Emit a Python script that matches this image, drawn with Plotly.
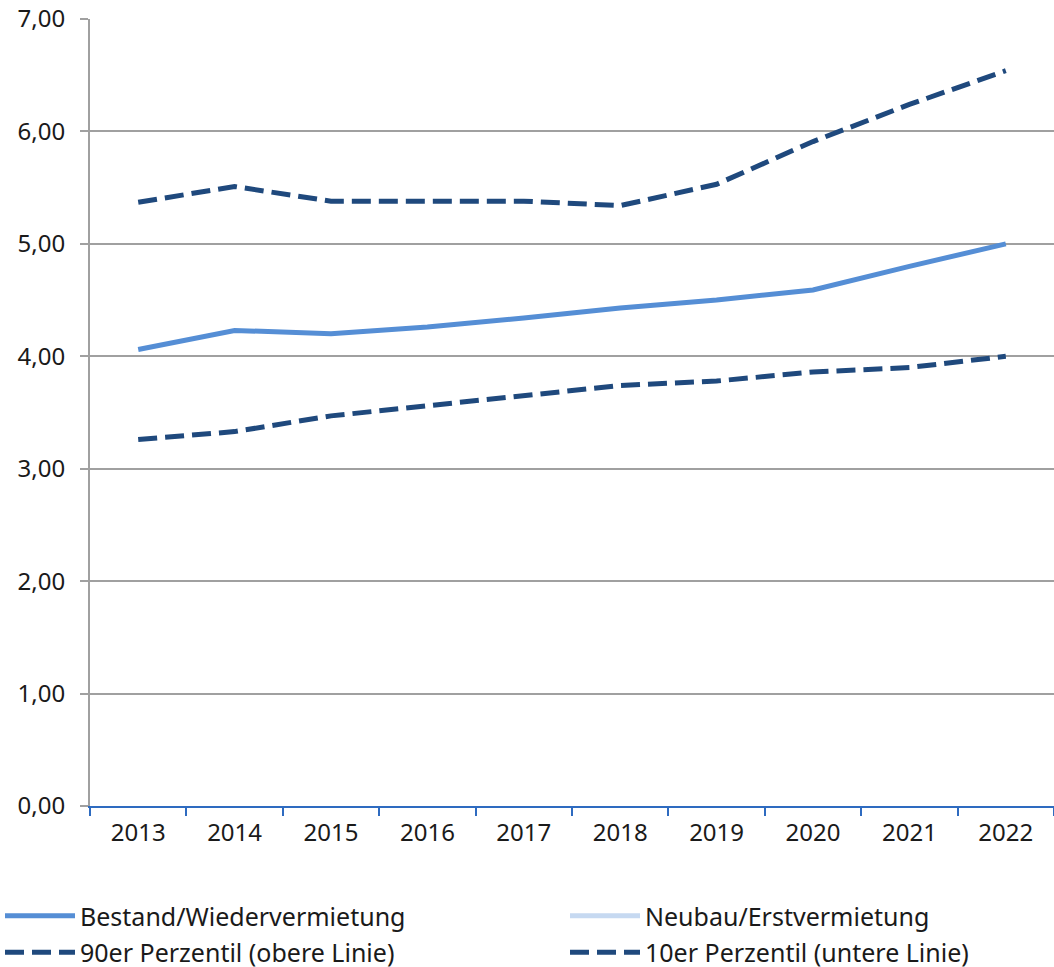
import plotly.graph_objects as go

years = ["2013", "2014", "2015", "2016", "2017", "2018", "2019", "2020", "2021", "2022"]
bestand = [4.06, 4.23, 4.20, 4.26, 4.34, 4.43, 4.50, 4.59, 4.80, 5.00]
neubau = [None] * 10
p90 = [5.37, 5.51, 5.38, 5.38, 5.38, 5.34, 5.53, 5.91, 6.24, 6.54]
p10 = [3.26, 3.33, 3.47, 3.56, 3.66, 3.74, 3.78, 3.86, 3.90, 4.00]

FONT = "Noto Sans"
TXT = "#1a1a1a"
FS = 24
fig = go.Figure()
fig.add_trace(go.Scatter(x=years, y=bestand, mode="lines", name="Bestand/Wiedervermietung",
                         line=dict(color="#558ed5", width=5), legend="legend", legendgroup="a"))
fig.add_trace(go.Scatter(x=years, y=p90, mode="lines", name="90er Perzentil (obere Linie)",
                         line=dict(color="#1f497d", width=5, dash="19px,8px"), legend="legend", legendgroup="b"))
fig.add_trace(go.Scatter(x=years, y=neubau, mode="lines", name="Neubau/Erstvermietung",
                         line=dict(color="#c6d9f1", width=5), legend="legend2", legendgroup="c"))
fig.add_trace(go.Scatter(x=years, y=p10, mode="lines", name="10er Perzentil (untere Linie)",
                         line=dict(color="#1f497d", width=5, dash="19px,8px"), legend="legend2", legendgroup="d"))

W, H = 1054, 967
L, T, B = 90, 19, 161
PW, PH = W - L, H - T - B
leg_common = dict(orientation="v", yanchor="top", xanchor="left", itemwidth=70,
                  font=dict(family=FONT, size=25, color=TXT), bgcolor="rgba(0,0,0,0)",
                  tracegroupgap=1, itemclick=False)
leg_y = -(893 - (T + PH)) / PH
fig.update_layout(
    width=W, height=H,
    margin=dict(l=L, r=0, t=T, b=B, autoexpand=False),
    paper_bgcolor="white", plot_bgcolor="white",
    separators=",.",
    font=dict(family=FONT, size=FS, color=TXT),
    showlegend=True,
    legend=dict(x=(0 - L) / PW, y=leg_y, **leg_common),
    legend2=dict(x=(565 - L) / PW, y=leg_y, **leg_common),
    xaxis=dict(type="category", showgrid=False, showline=True, linecolor="#2e6bc0", linewidth=2,
               ticks="outside", tickson="boundaries", ticklen=8, tickcolor="#2e6bc0", tickwidth=2,
               ticklabelstandoff=4,
               tickfont=dict(family=FONT, size=FS, color=TXT), range=[-0.5, 9.5], automargin=False),
    yaxis=dict(range=[0, 7], dtick=1, tickformat=".2f", showgrid=True, gridcolor="#a0a0a0", gridwidth=2,
               showline=True, linecolor="#a0a0a0", linewidth=2, ticks="outside", ticklen=8,
               tickcolor="#a0a0a0", tickwidth=2, zeroline=False, ticklabelstandoff=10,
               tickfont=dict(family=FONT, size=FS, color=TXT), automargin=False),
)
fig.write_html("out.html", config={"displayModeBar": False},
               post_script="document.body.style.margin='0';document.body.style.overflow='hidden';")
